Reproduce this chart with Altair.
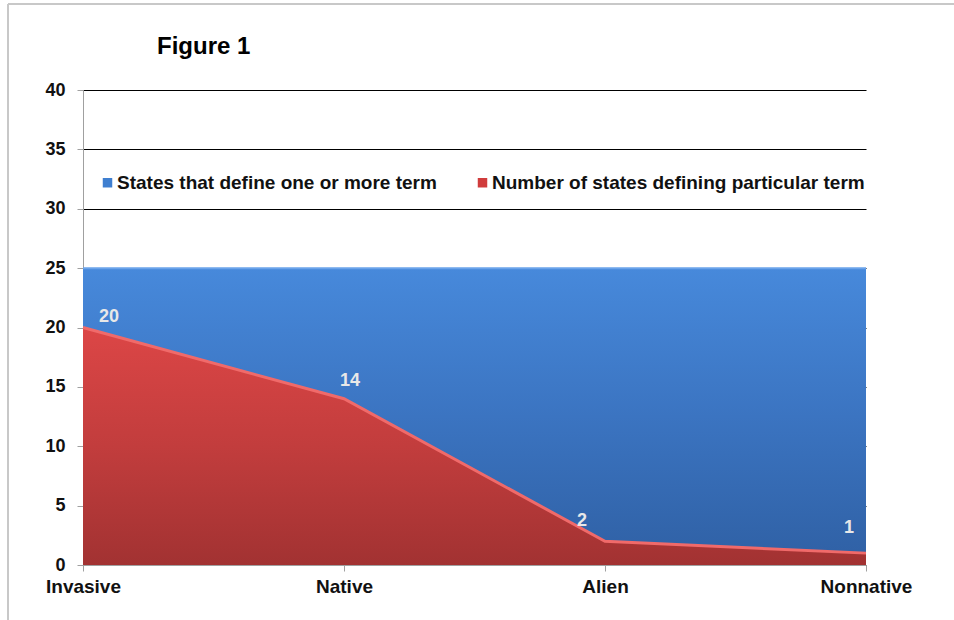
import altair as alt
import pandas as pd

title_text = "Figure 1"
terms = ["Invasive", "Native", "Alien", "Nonnative"]
states_any = [25, 25, 25, 25]
states_term = [20, 14, 2, 1]
series = ["States that define one or more term", "Number of states defining particular term"]
series_colors = ["#3f7fd0", "#d03c3c"]

df = pd.DataFrame({"term": terms, "any": states_any, "particular": states_term})
leg = pd.DataFrame({"series": series, "term": [terms[0], terms[0]], "v": [0, 0]})

FONT = "Liberation Sans"

x = alt.X("term:N", sort=terms, title=None,
          scale=alt.Scale(padding=0),
          axis=alt.Axis(labelAngle=0, labelFont=FONT, labelFontSize=19, labelFontWeight="bold",
                        labelColor="#111", domainColor="#a0a0a0", tickColor="#a0a0a0",
                        tickSize=6, labelPadding=6, grid=False))
yscale = alt.Scale(domain=[0, 40])
yaxis = alt.Axis(values=[0, 5, 10, 15, 20, 25, 30, 35, 40], labelFont=FONT, labelFontSize=18,
                 labelFontWeight="bold", labelColor="#111", domainColor="#a0a0a0",
                 tickColor="#a0a0a0", tickSize=6, labelPadding=12, grid=True,
                 gridColor="#000000", gridWidth=1, gridOpacity=1)

base = alt.Chart(df)

blue_grad = alt.Gradient(gradient="linear",
                         stops=[alt.GradientStop(color="#4789db", offset=0),
                                alt.GradientStop(color="#3b74c1", offset=0.5),
                                alt.GradientStop(color="#2f60a4", offset=1)],
                         x1=0, x2=0, y1=0, y2=1)
red_grad = alt.Gradient(gradient="linear",
                        stops=[alt.GradientStop(color="#dc4646", offset=0),
                               alt.GradientStop(color="#c23d3d", offset=0.5),
                               alt.GradientStop(color="#a23232", offset=1)],
                        x1=0, x2=0, y1=0, y2=1)

blue_area = base.mark_area(color=blue_grad, line=False).encode(
    x=x, y=alt.Y("any:Q", scale=yscale, axis=yaxis, title=None))
blue_edge = base.mark_line(color="#6aa3ea", strokeWidth=2).encode(
    x=x, y=alt.Y("any:Q", scale=yscale))
red_area = base.mark_area(color=red_grad).encode(
    x=x, y=alt.Y("particular:Q", scale=yscale))
red_edge = base.mark_line(color="#f06a6a", strokeWidth=3).encode(
    x=x, y=alt.Y("particular:Q", scale=yscale))

offsets = {"Invasive": (26, -11), "Native": (6, -18), "Alien": (-23, -20), "Nonnative": (-17, -25)}
labels = []
for t in terms:
    dx, dy = offsets[t]
    labels.append(
        base.transform_filter(alt.datum.term == t).mark_text(
            font=FONT, fontSize=18, fontWeight="bold", color="#e8e8e8",
            dx=dx, dy=dy, align="center", baseline="middle"
        ).encode(x=x, y=alt.Y("particular:Q", scale=yscale), text=alt.Text("particular:Q"))
    )

legend_layer = alt.Chart(leg).mark_square(opacity=0, size=80).encode(
    x=alt.X("term:N", sort=terms),
    y=alt.Y("v:Q", scale=yscale),
    color=alt.Color("series:N", sort=series,
                    scale=alt.Scale(domain=series, range=series_colors),
                    legend=alt.Legend(title=None, orient="none", legendX=15, legendY=83,
                                      direction="horizontal", columns=2, columnPadding=36,
                                      symbolType="square", symbolSize=90, symbolOpacity=1,
                                      symbolStrokeWidth=0, labelOffset=0,
                                      labelFont=FONT, labelFontSize=19, labelFontWeight="bold",
                                      labelColor="#111", labelLimit=500, symbolOffset=0)))

frame = alt.Chart(pd.DataFrame({"a": [0]}))
left_border = frame.mark_rule(color="#c8c8c8", strokeWidth=2).encode(
    x=alt.value(-75), y=alt.value(-86), y2=alt.value(540))
top_border = frame.mark_rule(color="#c8c8c8", strokeWidth=2).encode(
    x=alt.value(-75), x2=alt.value(880), y=alt.value(-86))
title_mark = frame.mark_text(font=FONT, fontSize=24, fontWeight="bold", color="#000",
                             align="left", baseline="alphabetic").encode(
    x=alt.value(74), y=alt.value(-36), text=alt.value(title_text))

chart = alt.layer(
    blue_area, blue_edge, red_area, red_edge, *labels, legend_layer,
    left_border, top_border, title_mark
).properties(
    width=783, height=475,
    autosize=alt.AutoSizeParams(type="none"),
    padding={"left": 83, "top": 90, "right": 88, "bottom": 55},
    background="white",
).configure_view(stroke=None)

chart.save("out.html", embed_options={"renderer": "svg", "actions": False})
